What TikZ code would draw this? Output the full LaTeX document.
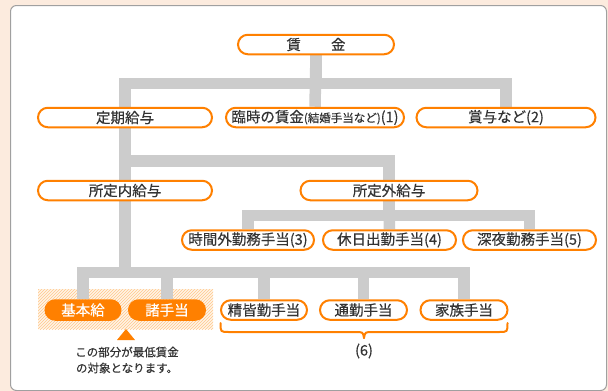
\documentclass[tikz,border=0pt]{standalone}
\usepackage{fontspec}
\newfontfamily\jp[FakeBold=0.35]{Noto Sans CJK JP}
\usetikzlibrary{patterns}
\pgfdeclarelayer{bg}
\pgfdeclarelayer{connlayer}
\pgfsetlayers{bg,connlayer,main}
\definecolor{peach}{RGB}{252,235,222}
\definecolor{orng}{RGB}{255,128,0}
\definecolor{txt}{RGB}{51,51,51}
\definecolor{conngray}{RGB}{204,204,204}
\definecolor{panelgray}{RGB}{160,160,160}
\definecolor{hatchbg}{RGB}{255,244,230}
\definecolor{hatchln}{RGB}{255,200,140}
\tikzset{
  pill/.style={draw=orng, line width=2pt, fill=white, rounded corners=9.75pt,
    minimum height=19.5pt, inner sep=0pt, text=txt,
    font=\jp\fontsize{14.5}{16}\selectfont},
  pillfill/.style={pill, fill=orng, text=white},
  conn/.style={draw=conngray, line width=11.5pt, line join=miter},
  brace/.style={draw=orng, line width=2pt, line cap=round},
  note/.style={text=txt, font=\jp\fontsize{11.5}{16}\selectfont, align=center, inner sep=0pt},
}
\begin{document}
\begin{tikzpicture}[x=1pt,y=-1pt]
\useasboundingbox (0,0) rectangle (608,391);
\begin{pgfonlayer}{bg}
  \fill[peach] (0,0) rectangle (608,391);
  \draw[panelgray, fill=white, line width=1pt, rounded corners=6pt] (10.5,5.5) rectangle (606.5,390.5);
  \fill[hatchbg] (38,289) rectangle (213,329);
  \fill[pattern=north east lines, pattern color=hatchln] (38,289) rectangle (213,329);
\end{pgfonlayer}
% bar levels
\coordinate (b1) at (0,83.5);
\coordinate (b2) at (0,161);
\coordinate (b3) at (0,215.5);
\coordinate (b4) at (0,272.5);
% nodes
\node[pill, minimum width=156pt] (chingin) at (316,44.5) {賃\hspace{30pt}金};
\node[pill, minimum width=174pt] (teiki) at (125,117.5) {定期給与};
\node[pill, minimum width=178pt] (rinji) at (315,117.5) {臨時の賃金{\fontsize{11.5}{12}\selectfont(結婚手当など)}(1)};
\node[pill, minimum width=179pt] (shoyo) at (506,117.5) {賞与など(2)};
\node[pill, minimum width=174pt] (naikyu) at (125,190.5) {所定内給与};
\node[pill, minimum width=177pt] (gaikyu) at (389,190.5) {所定外給与};
\node[pill, minimum width=132pt] (jikangai) at (248,240) {時間外勤務手当(3)};
\node[pill, minimum width=133pt] (kyujitsu) at (389.5,240) {休日出勤手当(4)};
\node[pill, minimum width=133pt] (shinya) at (529.5,240) {深夜勤務手当(5)};
\node[pillfill, minimum width=75pt] (kihon) at (83,310) {基本給};
\node[pillfill, minimum width=76pt] (shote) at (167,310) {諸手当};
\node[pill, minimum width=86pt] (seikai) at (264,310) {精皆勤手当};
\node[pill, minimum width=87pt] (tsukin) at (363.5,310) {通勤手当};
\node[pill, minimum width=87pt] (kazoku) at (464,310) {家族手当};
\node[note] (six) at (364,351) {\fontsize{14.5}{16}\selectfont(6)};
\node[note] (memo) at (127,360) {この部分が最低賃金\\の対象となります。};
% connectors
\begin{pgfonlayer}{connlayer}
  \draw[conn] (chingin.south) -- (chingin.south |- b1) -| (teiki.north);
  \draw[conn] (chingin.south) -- (rinji.north);
  \draw[conn] (chingin.south) -- (chingin.south |- b1) -| (shoyo.north);
  \draw[conn] (teiki.south) -- (teiki.south |- b2) -| (gaikyu.north);
  \draw[conn] (teiki.south) -- (naikyu.north);
  \draw[conn] (gaikyu.south) -- (gaikyu.south |- b3) -| (jikangai.north);
  \draw[conn] (gaikyu.south) -- (kyujitsu.north);
  \draw[conn] (gaikyu.south) -- (gaikyu.south |- b3) -| (shinya.north);
  \draw[conn] (naikyu.south) -- (naikyu.south |- b4) -| (kihon.north);
  \draw[conn] (naikyu.south) -- (naikyu.south |- b4) -| (shote.north);
  \draw[conn] (naikyu.south) -- (naikyu.south |- b4) -| (seikai.north);
  \draw[conn] (naikyu.south) -- (naikyu.south |- b4) -| (tsukin.north);
  \draw[conn] (naikyu.south) -- (naikyu.south |- b4) -| (kazoku.north);
\end{pgfonlayer}
% triangle marker
\fill[orng] (117,340) -- (135,340) -- (126,329) -- cycle;
% brace under (6)
\draw[brace] (220.5,323) .. controls (220.5,332) .. (229,332) -- (355,332) .. controls (363,332) .. (364,338);
\draw[brace] (507.5,323) .. controls (507.5,332) .. (499,332) -- (373,332) .. controls (365,332) .. (364,338);
\end{tikzpicture}
\end{document}
